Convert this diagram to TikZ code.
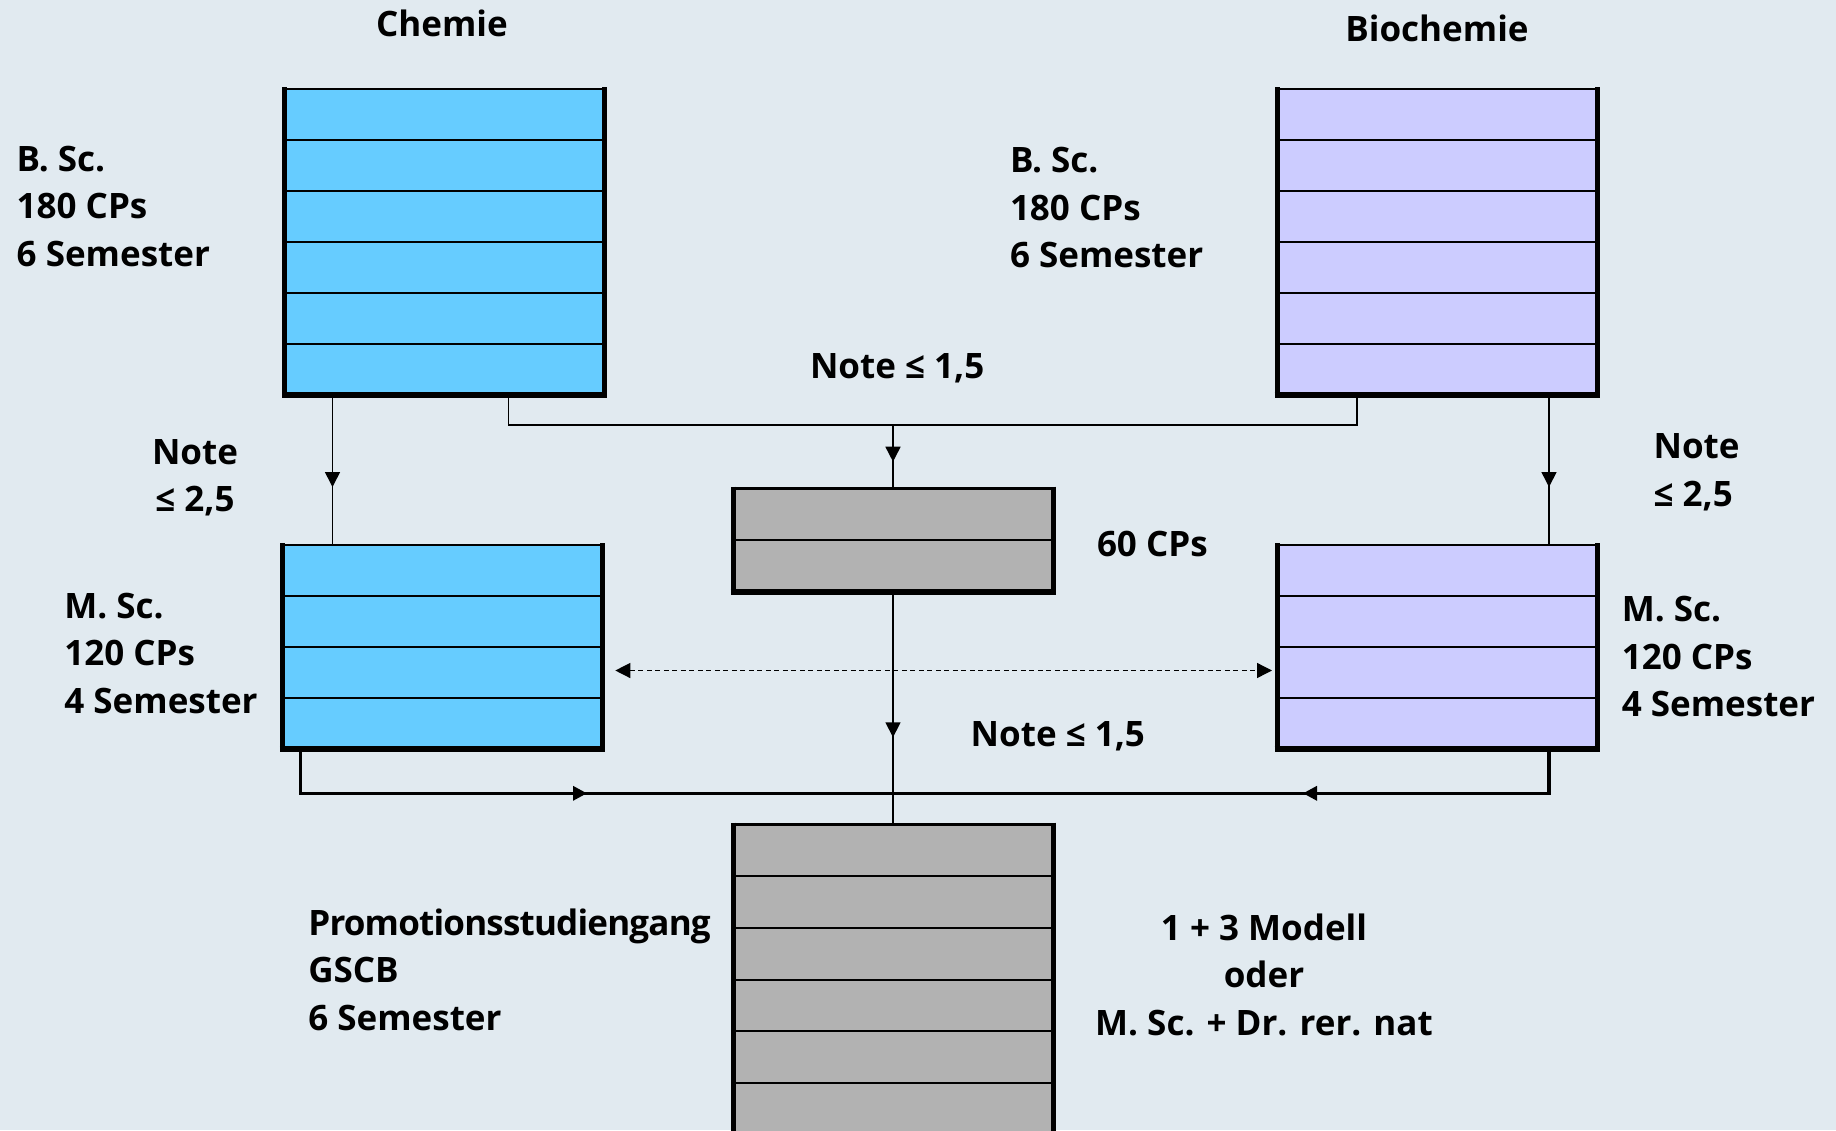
\documentclass[tikz,border=0pt]{standalone}
\usepackage{fontspec}
\setmainfont{Open Sans}
\usetikzlibrary{arrows.meta,decorations.markings,calc}
\definecolor{bg}{RGB}{225,234,240}
\definecolor{chemblue}{RGB}{102,204,255}
\definecolor{biolav}{RGB}{204,204,255}
\definecolor{boxgray}{RGB}{178,178,178}
\newcommand{\rowlines}[2]{%
  \foreach \i in {1,...,#2}{%
    \draw[innerline] ($(#1.north west)!{\i/(#2+1)}!(#1.south west)$) -- ($(#1.north east)!{\i/(#2+1)}!(#1.south east)$);}%
  \draw[topline] (#1.north west) -- (#1.north east);
  \draw[sideline] ([yshift=2pt]#1.north west) -- (#1.south west);
  \draw[sideline] ([yshift=2pt]#1.north east) -- (#1.south east);
  \draw[bottomline] ([xshift=-2.5pt]#1.south west) -- ([xshift=2.5pt]#1.south east);}
\begin{document}
\begin{tikzpicture}[x=1pt,y=-1pt,
  lbl/.style={font=\fontsize{35}{47.5}\selectfont\bfseries, inner sep=0pt, outer sep=0pt},
  box/.style={draw=none, inner sep=0pt, outer sep=0pt, minimum width=320pt, anchor=north west},
  innerline/.style={line width=2pt, black},
  topline/.style={line width=2.5pt, black},
  sideline/.style={line width=5pt, black},
  bottomline/.style={line width=6pt, black},
  conn/.style={line width=1.6pt, black},
  thickconn/.style={line width=3.3pt, black},
  dashconn/.style={line width=1.3pt, black, dash pattern=on 5pt off 3.5pt},
  arrowmid/.style={postaction={decorate}, decoration={markings, mark=at position #1 with {\arrow{Triangle[length=15pt,width=15pt]}}}},
  arrowmidb/.style={postaction={decorate}, decoration={markings, mark=at position #1 with {\arrow{Triangle[length=14pt,width=14pt]}}}}
]
\fill[bg] (0,0) rectangle (1836,1130);
\useasboundingbox (0,0) rectangle (1836,1130);

% boxes
\node[box, fill=chemblue, minimum height=306pt] (chemB) at (284.7,89) {};
\node[box, fill=biolav, minimum height=306pt] (bioB) at (1277,89) {};
\node[box, fill=chemblue, minimum height=204pt] (chemM) at (282.3,545) {};
\node[box, fill=biolav, minimum height=204pt] (bioM) at (1277,545) {};
\node[box, fill=boxgray, minimum height=103pt] (mid) at (733,488.7) {};
\node[box, fill=boxgray, minimum height=310pt] (promo) at (733,824.5) {};
\rowlines{chemB}{5}
\rowlines{bioB}{5}
\rowlines{chemM}{3}
\rowlines{bioM}{3}
\rowlines{mid}{1}
\rowlines{promo}{5}

% connector positions
\coordinate (xa) at (332.5,0);
\coordinate (xb) at (508.5,0);
\coordinate (xc) at (1357,0);
\coordinate (xf) at (1549,0);
\coordinate (xd) at (300.7,0);
\coordinate (jt) at (893,425);
\coordinate (jb) at (893,793.3);
\coordinate (yd) at (0,670.5);

% connectors
\draw[conn, arrowmid=92pt] (chemB.south -| xa) -- (chemM.north -| xa);
\draw[conn, arrowmid=92pt] (bioB.south -| xf) -- (bioM.north -| xf);
\draw[conn] (chemB.south -| xb) |- (jt) -| (bioB.south -| xc);
\draw[conn, arrowmid=36.7pt] (jt) -- (mid.north);
\draw[conn, arrowmid=145.6pt] (mid.south) -- (promo.north);
\draw[dashconn, {Triangle[length=15pt,width=15pt]}-{Triangle[length=15pt,width=15pt]}] ($(chemM.east |- yd)+(13,0)$) -- ($(bioM.west |- yd)+(-5,0)$);
\draw[thickconn, arrowmidb=330.6pt] (chemM.south -| xd) |- (jb);
\draw[thickconn, arrowmidb=290.3pt] (bioM.south -| xf) |- (jb);

% labels (multi-line nodes: base anchor = baseline of last line)
\node[lbl, anchor=base] (tChem) at (442,36) {Chemie};
\node[lbl, anchor=base] (tBio) at (1437,41.7) {Biochemie};
\node[lbl, anchor=base west, align=left] (tChemB) at (16.7,266) {B. Sc.\\180 CPs\\6 Semester};
\node[lbl, anchor=base west, align=left] (tBioB) at (1010,267.7) {B. Sc.\\180 CPs\\6 Semester};
\node[lbl, anchor=base west, align=center] (tNoteL) at (152,511.7) {Note\\≤ 2,5};
\node[lbl, anchor=base west, align=left] (tNoteR) at (1653.6,506) {Note\\≤ 2,5};
\node[lbl, anchor=base west] (tNoteTop) at (810,378) {Note ≤ 1,5};
\node[lbl, anchor=base west] (t60) at (1097,556.7) {60 CPs};
\node[lbl, anchor=base west, align=left] (tChemM) at (64.4,713) {M. Sc.\\120 CPs\\4 Semester};
\node[lbl, anchor=base west, align=left] (tBioM) at (1621.8,716.7) {M. Sc.\\120 CPs\\4 Semester};
\node[lbl, anchor=base west] (tNoteLow) at (970.7,746) {Note ≤ 1,5};
\node[lbl, anchor=base west, align=left] (tPromo) at (308.3,1030) {{\addfontfeature{LetterSpace=-2.3}Promotionsstudiengang}\\GSCB\\6 Semester};
\node[lbl, anchor=base, align=center] (tModel) at (1264,1035) {1 + 3 Modell\\oder\\M. Sc. + Dr. rer. nat};
\end{tikzpicture}
\end{document}
